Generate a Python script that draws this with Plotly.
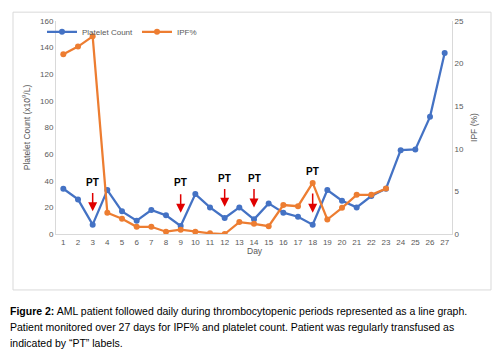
import plotly.graph_objects as go

days = list(range(1, 28))
platelet = [34, 26, 7, 33, 17, 10, 18, 14, 6, 30, 20, 12, 20, 11, 23, 16, 13, 7,
            33, 25, 20, 28.5, 34, 63, 63.5, 88, 136]
ipf_days = list(range(1, 24))
ipf = [21.1, 22.0, 23.2, 2.5, 1.8, 0.85, 0.85, 0.27, 0.5, 0.27, 0.08, 0.0, 1.4, 1.2,
       0.92, 3.4, 3.26, 6.0, 1.7, 3.07, 4.6, 4.6, 5.33]
pt_days = [3, 9, 12, 14, 18]
pt_label_y = [39, 39, 42, 42, 47]
pt_tail_y = [32, 31, 35, 35, 31.5]
pt_head_y = [17, 16, 20.5, 20, 16]

OFF = 8  # page body margin
W, H = 500, 363
L, R, T, B = 56 - OFF, 452 - OFF, 17 - OFF, 234 - OFF

def px(xp):
    return (xp - OFF - L) / (R - L)

def py(yp):
    return (B - (yp - OFF)) / (B - T)

fig = go.Figure()
fig.add_trace(go.Scatter(x=days, y=platelet, name="Platelet Count", mode="lines+markers",
                         line=dict(color="#4472C4", width=2.25),
                         marker=dict(color="#4472C4", size=6), yaxis="y"))
fig.add_trace(go.Scatter(x=ipf_days, y=ipf, name="IPF%", mode="lines+markers",
                         line=dict(color="#ED7D31", width=2.25),
                         marker=dict(color="#ED7D31", size=6), yaxis="y2"))

anns = []
for d, ty, ta, hd in zip(pt_days, pt_label_y, pt_tail_y, pt_head_y):
    anns.append(dict(x=d, y=ty, xref="x", yref="y", text="<b>PT</b>", showarrow=False,
                     font=dict(size=10, color="#000000", family="Liberation Sans")))
    anns.append(dict(x=d, y=hd, ax=d, ay=ta, xref="x", yref="y", axref="x", ayref="y",
                     text="", showarrow=True, arrowhead=2, arrowsize=1.2, arrowwidth=1.5,
                     arrowcolor="#E00000"))

cap_font = dict(family="Liberation Sans", size=10.5, color="#000000")
caps = [
    "<b>Figure 2:</b> AML patient followed daily during thrombocytopenic periods represented as a line graph.",
    "Patient monitored over 27 days for IPF% and platelet count. Patient was regularly transfused as",
    "indicated by \u201cPT\u201d labels.",
]
for i, c in enumerate(caps):
    anns.append(dict(x=px(8), y=py(312 + 16.5 * i), xref="paper", yref="paper", text=c,
                     showarrow=False, xanchor="left", yanchor="middle", font=cap_font))

anns.append(dict(x=px(255), y=py(258), xref="paper", yref="paper", text="Day",
                 showarrow=False, font=dict(size=8.5, color="#595959", family="Liberation Sans")))

fig.update_layout(
    width=W, height=H,
    margin=dict(l=L, r=W - R, t=T, b=H - B),
    paper_bgcolor="white", plot_bgcolor="white",
    font=dict(family="Liberation Sans", size=8, color="#595959"),
    showlegend=True,
    legend=dict(orientation="h", x=px(42), y=py(28), xanchor="left", yanchor="middle",
                font=dict(size=8, color="#595959"), bgcolor="rgba(0,0,0,0)",
                entrywidth=50, itemwidth=30),
    xaxis=dict(range=[0.5, 27.5], tickmode="array", tickvals=days, showgrid=False,
               showline=True, linecolor="#D9D9D9", linewidth=1, ticks="",
               tickfont=dict(size=8, color="#595959"), zeroline=False),
    yaxis=dict(range=[0, 160], dtick=20, showgrid=False, showline=True, linecolor="#D9D9D9",
               ticks="", zeroline=False, tickfont=dict(size=8, color="#595959"),
               title=dict(text="Platelet Count (x10<sup>9</sup>/L)", font=dict(size=8.5, color="#595959"),
                          standoff=8)),
    yaxis2=dict(range=[0, 25], dtick=5, overlaying="y", side="right", showgrid=False,
                showline=True, linecolor="#D9D9D9", ticks="", zeroline=False,
                tickfont=dict(size=8, color="#595959"),
                title=dict(text="IPF (%)", font=dict(size=8.5, color="#595959"), standoff=8)),
    annotations=anns,
    shapes=[dict(type="rect", xref="paper", yref="paper", x0=px(13), x1=px(491),
                 y0=py(291), y1=py(8), line=dict(color="#D9D9D9", width=1), layer="below")],
)

fig.write_html("out.html")
